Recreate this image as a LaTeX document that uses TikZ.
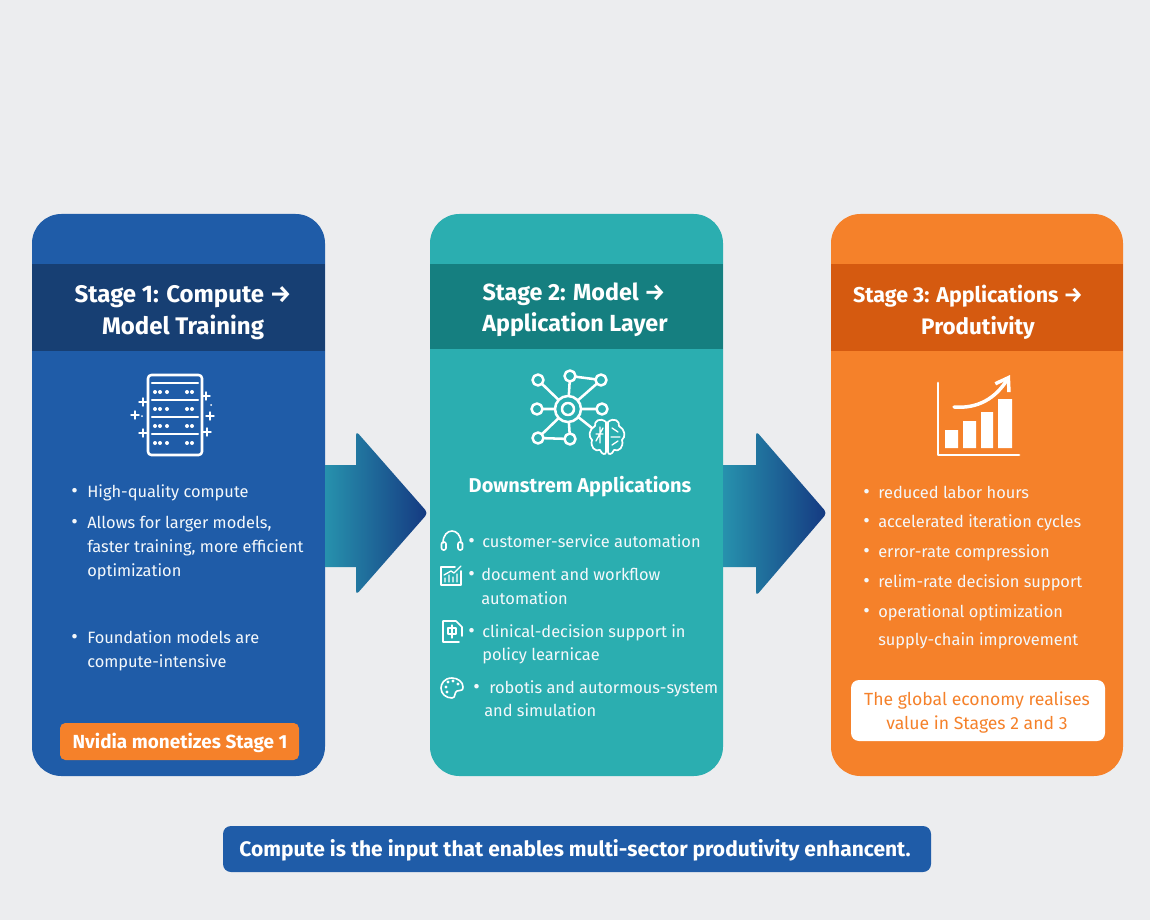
\documentclass[tikz,border=0pt]{standalone}
\usepackage{fontspec}
\setmainfont{Fira Sans}
\usetikzlibrary{arrows.meta}
\definecolor{pagegrey}{HTML}{ECEDEF}
\definecolor{stageblue}{HTML}{1F5CA8}
\definecolor{stagenavy}{HTML}{173F73}
\definecolor{stageteal}{HTML}{2BAEB0}
\definecolor{stagepine}{HTML}{157F80}
\definecolor{stageorange}{HTML}{F5812A}
\definecolor{stagerust}{HTML}{D55A10}
\definecolor{softwhite}{HTML}{F4F8FB}
\tikzset{
  headtext/.style={inner sep=0pt,anchor=base,text=white,font=\fontsize{18}{24}\selectfont\bfseries},
  bodytext/.style={inner sep=0pt,anchor=base west,text=softwhite,font=\fontsize{12.3}{18}\selectfont},
  dottext/.style={inner sep=0pt,anchor=base west,text=softwhite,font=\fontsize{15}{18}\selectfont},
  icon/.style={draw=white,line width=1.9pt,line cap=round,line join=round},
  thinicon/.style={draw=white,line width=1pt,line cap=round,line join=round},
  sparkle/.style={draw=white,line width=1.1pt,line cap=round},
}
\begin{document}
\begin{tikzpicture}[x=0.75pt,y=0.75pt,yscale=-1,xscale=1]
 \useasboundingbox (0,0) rectangle (1150,920);
 \fill [pagegrey] (0,0) rectangle (1150,920);

 %Shape: Rounded Rect [stage 1]
 \fill [stageblue,rounded corners=22pt] (32,214) rectangle (325,776);
 \fill [stagenavy] (32,264) rectangle (325,351);
 %Shape: Rounded Rect [stage 2]
 \fill [stageteal,rounded corners=22pt] (430,214) rectangle (723,776);
 \fill [stagepine] (430,264) rectangle (723,349);
 %Shape: Rounded Rect [stage 3]
 \fill [stageorange,rounded corners=22pt] (831,214) rectangle (1123,776);
 \fill [stagerust] (831,264) rectangle (1123,351);

 %Shape: Block Arrows
 \shade [left color=stageteal!65!stageblue,middle color=stageblue,right color=stagenavy!90!blue] (325,465) -- (356,465) [rounded corners=3pt] -- (356,431) -- (428,513) -- (356,595) [sharp corners] -- (356,567) -- (325,567) -- cycle;
 \shade [left color=stageteal!65!stageblue,middle color=stageblue,right color=stagenavy!90!blue] (723,465) -- (756,465) [rounded corners=3pt] -- (756,431) -- (827,513) -- (756,596) [sharp corners] -- (756,567) -- (723,567) -- cycle;

 %Shape: Rounded Rect [badges]
 \fill [stageorange,rounded corners=4pt] (60,723) rectangle (299,760);
 \fill [white,rounded corners=6pt] (851,680) rectangle (1105,741);
 \fill [stageblue,rounded corners=6pt] (223,826) rectangle (931,872);

 %Icon: server rack
 \draw [icon,rounded corners=2.5pt] (148,375) rectangle (202,455);
 \foreach \y in {383,400,417,434} {
   \draw [icon,line width=1.6pt] (152,\y) -- (198,\y);
 }
 \foreach \y in {392,409,426,443} {
   \foreach \x in {155,160,167,187,192} {
     \fill [white] (\x,\y) circle (2);
   }
 }
 \foreach \x/\y in {143/402,135/415,143/433,206/396,210/416,207/432} {
   \draw [sparkle] (\x-4,\y) -- (\x+4,\y) (\x,\y-4) -- (\x,\y+4);
 }
 \fill [white] (142,416) circle (1) (211,405) circle (1);

 %Icon: network and brain
 \draw [icon] (538,380) -- (568,409) (570,376) -- (568,409) (570,376) -- (601,380) -- (568,409) (537,409) -- (602,409) (538,438) -- (570,439) -- (568,409) -- (538,438) (568,409) -- (592,428);
 \foreach \x/\y in {538/380,570/376,601/380,537/409,602/409,538/438,570/439} {
   \filldraw [icon,fill=stageteal] (\x,\y) circle (5.5);
 }
 \filldraw [icon,fill=stageteal] (568,409) circle (13);
 \draw [icon] (568,409) circle (6);
 \filldraw [icon,fill=stageteal,line width=1.3pt] (606,422) .. controls (600,417) and (594,421) .. (595,426) .. controls (589,429) and (588,437) .. (592,440) .. controls (590,447) and (595,452) .. (600,450) .. controls (602,455) and (606,455) .. (606,452) -- cycle;
 \filldraw [icon,fill=stageteal,line width=1.3pt] (608,422) .. controls (614,417) and (620,421) .. (619,426) .. controls (625,429) and (626,437) .. (622,440) .. controls (624,447) and (619,452) .. (614,450) .. controls (612,455) and (608,455) .. (608,452) -- cycle;
 \draw [thinicon] (596,434) -- (603,434) (600,427) -- (600,443) (596,441) -- (603,428) (612,428) -- (618,432) (611,437) -- (620,437) (612,445) -- (618,441);

 %Icon: headset
 \draw [thinicon,line width=1.2pt] (443,543) .. controls (443,527) and (461,527) .. (461,543);
 \draw [thinicon,line width=1.2pt,rounded corners=1.5pt] (441.5,542) rectangle (446,550) (458,542) rectangle (462.5,550);
 %Icon: report chart
 \draw [thinicon,line width=1.2pt] (455,567) -- (441,567) -- (441,585) -- (461,585) -- (461,571);
 \draw [thinicon] (445,582) -- (445,578) (449,582) -- (449,575) (453,582) -- (453,577) (457,582) -- (457,574) (444,575) -- (451,571) -- (454,573) -- (461,566);
 %Icon: clinical sheet
 \draw [thinicon,line width=1.2pt] (462,636) -- (462,627) -- (456,621) -- (443,621) -- (443,642) -- (459,642);
 \draw [thinicon] (448,628) rectangle (456,634) (452,625) -- (452,638);
 %Icon: palette
 \draw [thinicon,line width=1.2pt] (452,678) .. controls (444,678) and (441,684) .. (441,688) .. controls (441,694) and (446,698) .. (452,698) .. controls (456,698) and (454,692) .. (457,691) .. controls (461,690) and (463,691) .. (463,687) .. controls (463,682) and (458,678) .. (452,678) -- cycle;
 \foreach \x/\y in {446/687,448/682,453/681,458/684,447/692} {
   \fill [white] (\x,\y) circle (1.6);
 }

 %Icon: growth chart
 \draw [icon,line width=2.2pt] (938,383) -- (938,455) -- (1019,455);
 \fill [white] (945,430) rectangle (958,448) (963,421) rectangle (976,448) (981,412) rectangle (993,448) (998,399) rectangle (1012,448);
 \draw [icon,line width=2.6pt,-{Straight Barb[length=9pt,width=12pt]}] (954,407) .. controls (978,409) and (996,398) .. (1010,375);

 % Text Node
 \node (stageOneA) [headtext] at (183,302) {Stage 1: Compute →};
 \node (stageOneB) [headtext] at (183,334) {Model Training};
 \node (stageTwoA) [headtext,font=\fontsize{17.5}{24}\selectfont\bfseries] at (574,300) {Stage 2: Model →};
 \node (stageTwoB) [headtext,font=\fontsize{17.5}{24}\selectfont\bfseries] at (575,331) {Application Layer};
 \node (stageThreeA) [headtext,font=\fontsize{16.1}{24}\selectfont\bfseries] at (968,302) {Stage 3: Applications →};
 \node (stageThreeB) [headtext,font=\fontsize{16.8}{24}\selectfont\bfseries] at (978,334) {Produtivity};

 % Text Node
 \node (dotOneA) [dottext] at (71,497) {•};
 \node (itemOneA) [bodytext] at (87,497) {High-quality compute};
 \node (dotOneB) [dottext] at (71,528) {•};
 \node (itemOneB) [bodytext] at (87,528) {Allows for larger models,};
 \node (itemOneC) [bodytext] at (87,552) {faster training, more efficient};
 \node (itemOneD) [bodytext] at (87,576) {optimization};
 \node (dotOneC) [dottext] at (71,643) {•};
 \node (itemOneE) [bodytext] at (87,643) {Foundation models are};
 \node (itemOneF) [bodytext] at (87,667) {compute-intensive};
 \node (badgeOne) [headtext,font=\fontsize{14.2}{18}\selectfont\bfseries] at (180,748) {Nvidia monetizes Stage 1};

 % Text Node
 \node (appsTitle) [headtext,font=\fontsize{15}{20}\selectfont\bfseries] at (580,492) {Downstrem Applications};
 \node (dotTwoA) [dottext] at (468,547) {•};
 \node (itemTwoA) [bodytext] at (482,547) {customer-service automation};
 \node (dotTwoB) [dottext] at (468,580) {•};
 \node (itemTwoB) [bodytext] at (481,580) {document and workflow};
 \node (itemTwoC) [bodytext] at (481,604) {automation};
 \node (dotTwoC) [dottext] at (468,637) {•};
 \node (itemTwoD) [bodytext] at (482,637) {clinical-decision support in};
 \node (itemTwoE) [bodytext] at (482,660) {policy learnicae};
 \node (dotTwoD) [dottext] at (473,693) {•};
 \node (itemTwoF) [bodytext] at (489,693) {robotis and autormous-system};
 \node (itemTwoG) [bodytext] at (484,716) {and simulation};

 % Text Node
 \node (dotThreeA) [dottext] at (863,498) {•};
 \node (itemThreeA) [bodytext] at (878,498) {reduced labor hours};
 \node (dotThreeB) [dottext] at (863,527) {•};
 \node (itemThreeB) [bodytext] at (878,527) {accelerated iteration cycles};
 \node (dotThreeC) [dottext] at (863,557) {•};
 \node (itemThreeC) [bodytext] at (878,557) {error-rate compression};
 \node (dotThreeD) [dottext] at (863,587) {•};
 \node (itemThreeD) [bodytext] at (878,587) {relim-rate decision support};
 \node (dotThreeE) [dottext] at (863,617) {•};
 \node (itemThreeE) [bodytext] at (878,617) {operational optimization};
 \node (itemThreeF) [bodytext] at (878,645) {supply-chain improvement};
 \node (badgeThreeA) [headtext,text=stageorange,font=\fontsize{13.2}{18}\selectfont] at (977,705) {The global economy realises};
 \node (badgeThreeB) [headtext,text=stageorange,font=\fontsize{13.2}{18}\selectfont] at (977,729) {value in Stages 2 and 3};

 % Text Node
 \node (footerLine) [headtext,font=\fontsize{15.75}{20}\selectfont\bfseries] at (575,856) {Compute is the input that enables multi-sector produtivity enhancent.};

\end{tikzpicture}
\end{document}
